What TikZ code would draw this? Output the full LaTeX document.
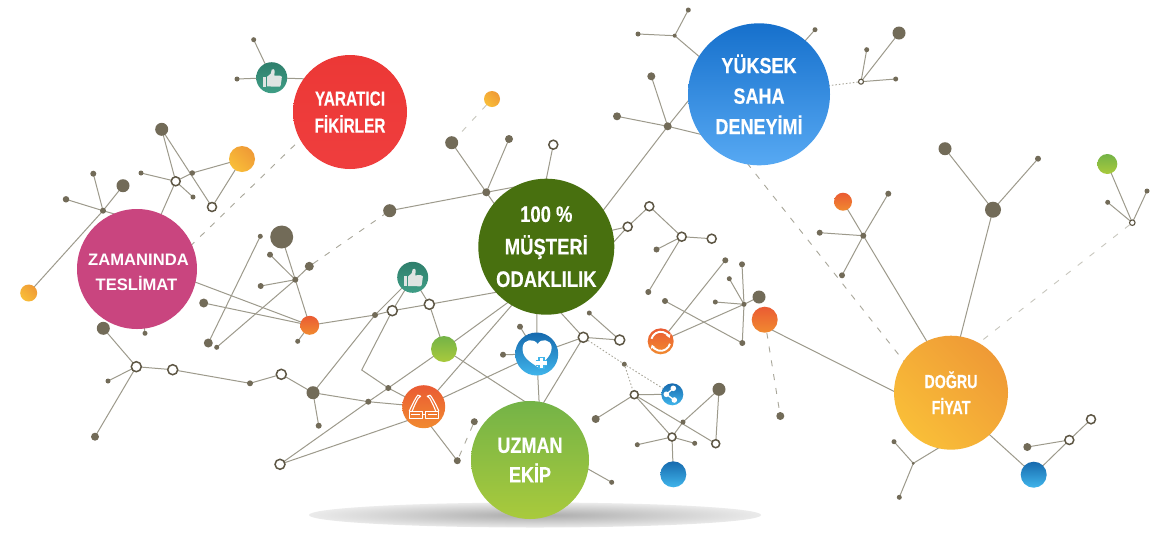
\documentclass[tikz,border=0pt]{standalone}
\usepackage{fontspec}
\setmainfont{Liberation Sans}
\newfontfamily\condA[FakeStretch=0.84,BoldFeatures={FakeStretch=0.82,FakeBold=0.35}]{Liberation Sans}
\newfontfamily\condB[FakeStretch=0.76,BoldFeatures={FakeStretch=0.75,FakeBold=0.35}]{Liberation Sans}
\usetikzlibrary{backgrounds,arrows.meta}
\definecolor{nodec}{HTML}{726B58}
\definecolor{ringc}{HTML}{5D5644}
\definecolor{linec}{HTML}{9D9A8C}
\definecolor{dashc}{HTML}{A9A79A}
\definecolor{orT}{HTML}{EA5B33}\definecolor{orB}{HTML}{F18A30}
\definecolor{blT}{HTML}{176AAE}\definecolor{blB}{HTML}{40B5EB}
\definecolor{grT}{HTML}{74B347}\definecolor{grB}{HTML}{A9CA3C}
\definecolor{yeT}{HTML}{EF9A36}\definecolor{yeB}{HTML}{F9BE38}
\definecolor{teT}{HTML}{2F7F6C}\definecolor{teB}{HTML}{3F9E86}
\definecolor{skT}{HTML}{1670CC}\definecolor{skB}{HTML}{57A9F3}
\definecolor{reT}{HTML}{EC3836}\definecolor{reB}{HTML}{EF3E3E}
\definecolor{pinkc}{HTML}{C9457F}
\definecolor{greenc}{HTML}{48700F}
\definecolor{iconw}{HTML}{DFE4E2}
\tikzset{
  dot/.style={circle,fill=nodec,minimum size=#1pt,inner sep=0pt},
  ringnode/.style={circle,fill=white,draw=ringc,line width=1.5pt,minimum size=#1pt,inner sep=0pt},
  ball/.style={circle,minimum size=#1pt,inner sep=0pt,text=white,align=center},
  orangeball/.style={ball=#1,top color=orT,bottom color=orB},
  blueball/.style={ball=#1,top color=blT,bottom color=blB},
  greenball/.style={ball=#1,top color=grT,bottom color=grB},
  yellowball/.style={ball=#1,top color=yeT,bottom color=yeB,shading angle=-45},
  edge/.style={draw=linec,line width=1pt},
  dashedge/.style={draw=dashc,line width=0.9pt,dash pattern=on 6pt off 8pt},
  dashlight/.style={draw=dashc!65,line width=0.9pt,dash pattern=on 6pt off 9pt},
  dotedge/.style={draw=dashc,line width=0.9pt,dash pattern=on 1.5pt off 2pt},
}
\begin{document}
\begin{tikzpicture}[x=1pt,y=-1pt]
\useasboundingbox (0,0) rectangle (1165,550);
% floor shadow
\shade[inner color=black!33,outer color=black!8] (535,515) ellipse [x radius=226,y radius=12.5];
% small solid dots
\foreach \n/\x/\y/\d in {
 a1/253.7/39.7/5, a2/237/79/5,
 b1/161.7/129.3/13, b3/192.3/173/5.5, b5/141/173/5, b6/193/197/5,
 c1/123/185.7/13, c2/93.3/173.7/6, c3/66/199.3/6.5, c4/103/210.7/6,
 d1/103.3/328.3/13, d2/145/333.3/5,
 e1/281.7/237/23, e2/260.3/236.3/5, e3/270/254.7/6, e4/309.3/266.3/9, e5/295.3/279.7/6, e6/260.7/286/6,
 e7/203.7/303/9, e9/297.7/341.3/5, e10/208.3/343/9, e11/216.7/347.3/5,
 f2/108/381/5, f3/95/436.7/8, f5/250/383.3/6, f7/313/392.7/13, f8/318.7/425.7/6, f9/368.3/401.7/6, f10/388.3/388/6,
 g1/375/315/6, g2/457.3/460.7/7, g3/474.3/421.7/7,
 h1/451.7/142.7/13, h2/509/139/8, h3/486.3/192.3/8, h4/389.7/210.7/13,
 i1/617/116.3/8, i2/667.7/126.3/8, i3/651.3/76.3/8,
 j1/656.5/249.5/6, j2/648.3/292/6, j3/665/301/6, j4/725.3/260.3/6, j5/742/264.3/6, j6/729.3/278.7/5, j7/744/304.3/5, j8/715.3/302/5, j9/759/297/13, j10/742.3/343/6,
 k1/589.3/313/5, k2/520/326.7/6, k3/503/354.7/6, k4/624.3/364.2/5,
 l1/719/389.3/13, l2/595.7/419/8, l3/683/422/5, l4/637.3/444.7/5, l5/694.7/443.3/5, l6/611.7/482.3/5,
 m1/780.3/416/8,
 o1/688.3/10/5, o2/638/34/5, o3/674.7/35.7/4, o4/815/29.7/5, o5/899/33/13, o6/866.7/49.7/5, o7/895.7/79/5,
 p1/945/148.7/13, p2/1038/158.7/6, p3/993/209.7/16, p4/1147/191/5, p5/1107.7/202.3/5,
 q1/888.3/193.7/6, q2/819.7/232.7/6, q3/863.3/235.7/6, q4/842/275.3/6,
 r1/894/441.7/5, r2/913.3/463.3/3, r3/899.3/497.3/5, r4/1027.3/447/8}
 {\node[dot=\d] (\n) at (\x,\y) {};}
% open ring dots
\foreach \n/\x/\y/\d in {
 b4/175.7/181.3/9, b7/212/207/9,
 f1/136.3/366.7/10, f4/172.7/369.7/10, f6/281.3/374.3/10, f11/280/464.3/10,
 g4/392.3/310.7/10, g5/429.3/304.3/10,
 h5/553.3/144.7/9,
 j11/627.7/226.7/9, j12/649.3/206.3/9, j13/681.7/236.7/9, j14/711.7/238.7/9,
 k5/583.3/337.3/10, k6/619.7/340/10,
 l7/634.3/394.7/8, l8/672/437/8, l9/715.7/443.7/8,
 r5/1069.3/440/9, r6/1091/419.3/9}
 {\node[ringnode=\d] (\n) at (\x,\y) {};}
\node[ringnode=5,line width=1.1pt] (o8) at (861,81.7) {};
\node[ringnode=5.5,line width=1.1pt] (p6) at (1132.3,222.7) {};
% coloured small balls
\node[yellowball=26] (y1) at (242,159) {};
\node[yellowball=17] (y2) at (28.7,293) {};
\node[yellowball=16] (y3) at (492,99) {};
\node[orangeball=19] (t1) at (309.7,325.3) {};
\node[orangeball=26] (t2) at (764.7,319.7) {};
\node[orangeball=18] (t3) at (843,201.7) {};
\node[greenball=26] (u1) at (444,349) {};
\node[greenball=20] (u2) at (1107.3,164) {};
\node[blueball=26] (v1) at (673.3,474.3) {};
\node[blueball=26] (v2) at (1033.7,474.7) {};
% icon balls
\node[ball=31,top color=teT,bottom color=teB] (w1) at (271.7,77.7) {};
\node[ball=31,top color=teT,bottom color=teB] (w2) at (412.7,277.3) {};
\node[orangeball=43] (w3) at (423.7,406.7) {};
\node[blueball=43] (w4) at (536.7,354) {};
\node[orangeball=26] (w5) at (660.7,341.3) {};
\node[blueball=22] (w6) at (672.3,394.3) {};
% large labelled balls
\node[ball=114,top color=reT,bottom color=reB,font={\condB\bfseries\fontsize{20.5}{27}\selectfont}] (yar) at (350,112) {YARATICI\\FİKİRLER};
\node[ball=120,fill=pinkc] (zam) at (137,269) {};
\node[text=white,align=center,inner sep=0pt,font={\bfseries\fontsize{16.6}{24.5}\selectfont}] (zamtext) at (138.5,272.5) {ZAMANINDA\\TESLİMAT\hspace*{4pt}};
\node[ball=136,fill=greenc,font={\condA\bfseries\fontsize{22.5}{32.5}\selectfont}] (mus) at (546.3,246.7) {100 \%\\MÜŞTERİ\\ODAKLILIK};
\node[ball=142,top color=skT,bottom color=skB,font={\condA\bfseries\fontsize{22}{30.5}\selectfont}] (yuk) at (759,94.3) {YÜKSEK\\SAHA\\DENEYİMİ};
\node[yellowball=114,font={\condB\bfseries\fontsize{19}{26}\selectfont}] (dog) at (951,392.7) {DOĞRU\\FİYAT};
\node[ball=118,top color=grT,bottom color=grB,font={\condA\bfseries\fontsize{22}{29.5}\selectfont}] (uzm) at (530,460) {UZMAN\\EKİP};
% free ends hidden behind the large balls
\foreach \n/\x/\y in {
 ca/310/79, cb/305/135, cc/190.5/246, cd/125/217, ce/150/265, cf/520/288, cg/415/418, ch/420/412,
 ci/525/290, cj/540/411.4, ck/537/290, cl/540/420, cm/540/290, cn/527/430, co/600/233, cp/600/257,
 cq/766/327, cr/915/402, cs/715/70, ct/780/69, cu/720/139, cv/595/221, cw/705/80, cx/747/163,
 cy/910/369, cz/935/355, da/957/350, db/975/346, dc/950/441, dd/980/426, de/542/200, df/520/186, dg/500/212,
 dh/565/456}
 {\coordinate (\n) at (\x,\y);}
% connectors, behind every ball
\begin{scope}[on background layer]
\fill[white] (0,0) rectangle (1165,550);
\foreach \a/\b in {
 a1/w1, a2/w1, w1/ca,
 b1/b4, b1/b7, y1/b3, b3/b4, y1/b7, b5/b4, b4/b6, b4/zam,
 c1/c4, c2/c4, c3/c4, c4/y2, c4/cd,
 ce/t1, e7/t1, e1/e5, e5/t1, e3/e5, e6/e5, e4/e5, e5/e11, e2/e10, t1/e9, d2/zam,
 t1/g1, g1/g4, g4/g5, g5/cf, g5/u1, w2/g5, w2/g1, g1/f7, w2/g4,
 f1/d1, f1/f2, f1/f3, f1/f4, f4/f5, f5/f6, f6/f7, f7/f8, f7/f9, f9/w3,
 f11/f9, f9/f10, f10/u1, f10/w3, f11/cg, w3/ch, ch/g2,
 u1/ci, u1/cj, w3/ci, w3/w4, w4/ck, w4/cl, k5/w4, k2/w4, k3/w4,
 k5/cm, k5/k6, k1/k6, k5/cn,
 j11/co, j11/cp, j11/j12, j12/j13, j13/j14, j13/j1, j13/j2,
 w5/j4, w5/j7, j3/j10, j5/j7, j7/j10, j6/j7, j8/j7, j7/j9,
 cq/cr,
 l7/w6, l7/l2, l7/l8, l7/l9, l1/l3, l3/l8, l1/l9, l8/l4, l8/l5, l8/v1,
 o1/o3, o2/o3, o3/cs, o4/ct, i3/i2, i1/i2, i2/cu, cv/i2, i2/cw,
 o5/o8, o6/o8, o7/o8,
 t3/q3, q1/q3, q2/q3, q4/q3, q3/cz,
 p1/p3, p2/p3, p3/da,
 u2/p6, p4/p6, p5/p6,
 dc/r2, r1/r2, r3/r2, dd/v2, v2/r5, r5/r6, r4/r5,
 h1/h3, h2/h3, h5/de, h4/h3, h3/df, h3/dg, dh/l6}
 {\draw[edge] (\a.center) -- (\b.center);}
\draw[edge] (g4.center) -- (361.7,370) -- (f10.center);
\draw[dashedge] (cb) -- (cc);
\draw[dashedge] (e4) -- (h4);
\draw[dashlight] (y3) -- (h1);
\draw[dashedge] (g3) -- (g2);
\draw[dashedge] (t2) -- (m1);
\draw[dashedge] (cx) -- (cy);
\draw[dashlight] (p6) -- (db);
\draw[dotedge] (k5) -- (k4) -- (w6);
\draw[dotedge] (k4) -- (l7);
\draw[dotedge] (yuk.center) -- (o8);
\end{scope}
% thumb icons
\foreach \ic in {w1,w2}{
 \begin{scope}[shift={(\ic.center)}]
  \fill[iconw] (-9,-1) rectangle (-5.7,9);
  \fill[iconw] (-4.5,-1) -- (-1,-4) -- (0,-8) .. controls (1,-9) and (3,-9) .. (3,-6) -- (2.5,-2) -- (8,-2.2)
    .. controls (10.5,-2.2) and (10.5,0) .. (10,1) -- (9,7.5) .. controls (8.7,9) and (8,9) .. (7,9) -- (-4.5,8.7) -- cycle;
 \end{scope}}
% glasses icon
\begin{scope}[shift={(w3.center)},draw=white,line width=1.1pt,line join=round]
 \draw (-14.5,4.5) rectangle (-1.3,12);
 \draw (2,4.5) rectangle (15.2,12);
 \draw[line width=0.9pt] (-12.5,8.2) -- (-3.5,8.2) (4,8.2) -- (13,8.2);
 \draw (-1.3,7.5) -- (2,7.5);
 \draw (-14.5,4.5) .. controls (-11,-3) and (-8,-9) .. (-6,-11.5) -- (-3,-10.5) -- (-5.5,-8.5) .. controls (-7.5,-5) and (-10,0) .. (-11.5,4.5);
 \draw (15.2,4.5) .. controls (12,-3) and (8.5,-9) .. (6.5,-11.5) -- (3.5,-10.5) -- (6,-8.5) .. controls (8,-5) and (10.5,0) .. (12,4.5);
\end{scope}
% heart icon
\begin{scope}[shift={(w4.center)}]
 \fill[white] (1,13) .. controls (-8,7) and (-15,3) .. (-14,-7) .. controls (-13,-15) and (-3,-16) .. (1,-10)
   .. controls (4,-16) and (14,-15) .. (15,-7) .. controls (15,2) and (8,7) .. (1,13) -- cycle;
 \draw[draw=blB,line width=6.5pt] (-1,9) -- (10.5,9) (4.7,3.2) -- (4.7,14.8);
 \draw[white,line width=3.6pt] (-0.5,9) -- (10,9) (4.7,3.7) -- (4.7,14.3);
\end{scope}
% sync icon
\begin{scope}[shift={(w5.center)},white,line width=1.9pt]
 \draw[-{Stealth[length=4pt,width=5pt]}] (-9.2,-2.5) arc[start angle=195,end angle=340,radius=9.5];
 \draw[-{Stealth[length=4pt,width=5pt]}] (9.2,2.5) arc[start angle=15,end angle=160,radius=9.5];
\end{scope}
% share icon
\begin{scope}[shift={(w6.center)}]
 \draw[white,line width=1.3pt] (1,-6) -- (-6,0) -- (2,5.7);
 \fill[white] (1,-6) circle[radius=2.8] (-6,0) circle[radius=2.8] (2,5.7) circle[radius=2.8];
\end{scope}
\end{tikzpicture}
\end{document}
